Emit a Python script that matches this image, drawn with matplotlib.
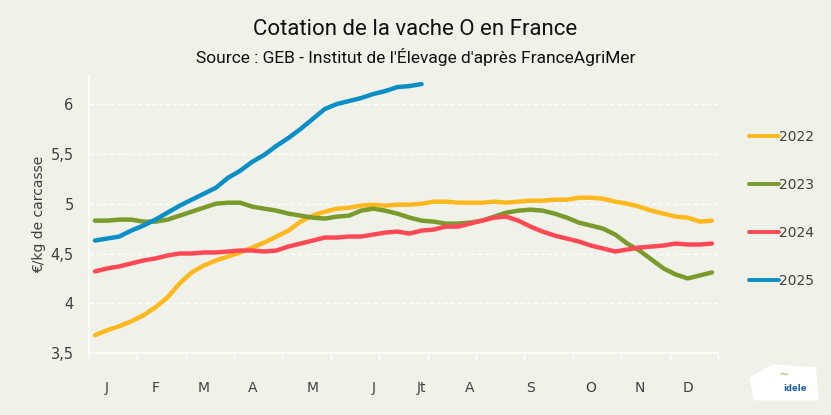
import numpy as np
import matplotlib.pyplot as plt
from matplotlib.patches import Polygon

# weekly prices, EUR/kg carcass
weeks = np.arange(1, 53)
y2022 = [3.68, 3.73, 3.77, 3.82, 3.88, 3.96, 4.06, 4.20, 4.31, 4.38, 4.43, 4.47, 4.51,
         4.56, 4.61, 4.67, 4.73, 4.82, 4.88, 4.92, 4.95, 4.96, 4.98, 4.99, 4.98, 4.99,
         4.99, 5.00, 5.02, 5.02, 5.01, 5.01, 5.01, 5.02, 5.01, 5.02, 5.03, 5.03, 5.04,
         5.04, 5.06, 5.06, 5.05, 5.02, 5.00, 4.97, 4.93, 4.90, 4.87, 4.86, 4.82, 4.83]
y2023 = [4.83, 4.83, 4.84, 4.84, 4.82, 4.82, 4.84, 4.88, 4.92, 4.96, 5.00, 5.01, 5.01,
         4.97, 4.95, 4.93, 4.90, 4.88, 4.86, 4.85, 4.87, 4.88, 4.93, 4.95, 4.93, 4.90,
         4.86, 4.83, 4.82, 4.80, 4.80, 4.81, 4.83, 4.87, 4.91, 4.93, 4.94, 4.93, 4.90,
         4.86, 4.81, 4.78, 4.75, 4.69, 4.60, 4.53, 4.44, 4.35, 4.29, 4.25, 4.28, 4.31]
y2024 = [4.32, 4.35, 4.37, 4.40, 4.43, 4.45, 4.48, 4.50, 4.50, 4.51, 4.51, 4.52, 4.53,
         4.53, 4.52, 4.53, 4.57, 4.60, 4.63, 4.66, 4.66, 4.67, 4.67, 4.69, 4.71, 4.72,
         4.70, 4.73, 4.74, 4.77, 4.77, 4.80, 4.83, 4.86, 4.87, 4.83, 4.77, 4.72, 4.68,
         4.65, 4.62, 4.58, 4.55, 4.52, 4.54, 4.56, 4.57, 4.58, 4.60, 4.59, 4.59, 4.60]
y2025 = [4.63, 4.65, 4.67, 4.73, 4.78, 4.84, 4.91, 4.98, 5.04, 5.10, 5.16, 5.26, 5.33,
         5.42, 5.49, 5.58, 5.66, 5.75, 5.85, 5.95, 6.00, 6.03, 6.06, 6.10, 6.13, 6.17,
         6.18, 6.20]

month_labels = ['J', 'F', 'M', 'A', 'M', 'J', 'Jt', 'A', 'S', 'O', 'N', 'D']
month_weeks = [2, 6, 10, 14, 19, 24, 28, 32, 37, 42, 46, 50]
yticks = [3.5, 4, 4.5, 5, 5.5, 6]
ytick_labels = ['3,5', '4', '4,5', '5', '5,5', '6']

series = [('2022', y2022, '#FFB81D'), ('2023', y2023, '#7A9A2C'),
          ('2024', y2024, '#FF4A55'), ('2025', y2025, '#0A8EC6')]

bg = '#F0F1E8'
txt = '#404040'

fig = plt.figure(figsize=(8.31, 4.15), dpi=100, facecolor=bg)
ax = fig.add_axes([0.107, 0.149, 0.757, 0.670], facecolor=bg)

for label, vals, col in series:
    ax.plot(weeks[:len(vals)], vals, color=col, lw=3.2, label=label,
            solid_capstyle='round', solid_joinstyle='round')

ax.set_xlim(0.5, 52.5)
ax.set_ylim(3.5, 6.29)

# tick marks at 4-week boundaries, labels at month positions
ax.set_xticks(np.arange(0.5, 53, 4))
ax.set_xticklabels([])
ax.tick_params(axis='x', which='major', length=5, width=1, color='white', direction='out')
ax.set_xticks(month_weeks, minor=True)
ax.set_xticklabels(month_labels, minor=True)
ax.tick_params(axis='x', which='minor', length=0, pad=20, labelsize=10, labelcolor=txt)

ax.set_yticks(yticks)
ax.set_yticklabels(ytick_labels)
ax.tick_params(axis='y', length=0, pad=11, labelsize=10.5, labelcolor=txt)
ax.yaxis.grid(True, color='white', ls=(0, (3, 2)), lw=1)
ax.set_axisbelow(True)

for s in ['top', 'right']:
    ax.spines[s].set_visible(False)
for s in ['left', 'bottom']:
    ax.spines[s].set_color('white')
    ax.spines[s].set_linewidth(1.2)

ax.set_ylabel('€/kg de carcasse', fontsize=10, color=txt, labelpad=3)

leg = ax.legend(loc='center left', bbox_to_anchor=(1.03, 0.52), frameon=False,
                fontsize=10, labelspacing=2.45, handlelength=2.1, handletextpad=0.05)
for t in leg.get_texts():
    t.set_color(txt)
for h in leg.get_lines():
    h.set_linewidth(2.8)

fig.text(0.5, 0.93, 'Cotation de la vache O en France', ha='center', va='center',
         fontsize=16, color='#111111', family='Roboto', stretch='condensed')
fig.text(0.5, 0.862, "Source : GEB - Institut de l'Élevage d'après FranceAgriMer",
         ha='center', va='center', fontsize=12.5, color='#111111',
         family='Roboto', stretch='condensed')

# small logo placeholder
logo = Polygon([[0.907, 0.035], [0.985, 0.035], [0.982, 0.115], [0.93, 0.122], [0.902, 0.09]],
               closed=True, transform=fig.transFigure, facecolor='white', edgecolor='none')
fig.add_artist(logo)
fig.text(0.957, 0.065, 'idele', ha='center', va='center', fontsize=6, color='#1F5FA8',
         weight='bold')
fig.text(0.943, 0.097, '~', ha='center', va='center', fontsize=9, color='#8DC63F')

fig.savefig('out.png', dpi=100, facecolor=bg)
